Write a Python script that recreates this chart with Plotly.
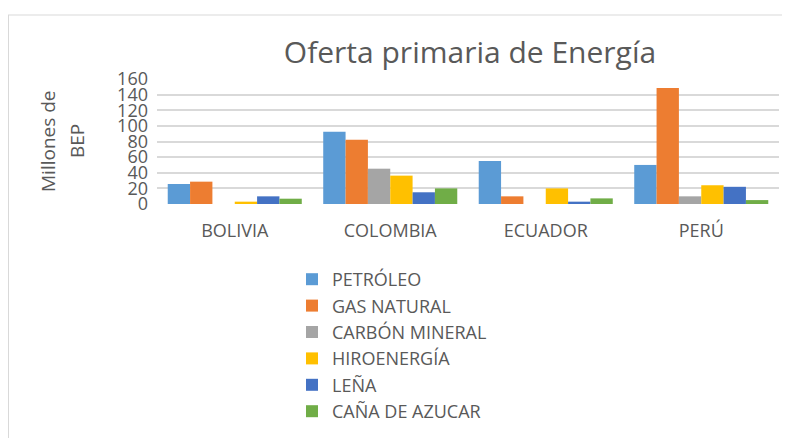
import plotly.graph_objects as go

countries = ["BOLIVIA", "COLOMBIA", "ECUADOR", "PERÚ"]
series_names = ["PETRÓLEO", "GAS NATURAL", "CARBÓN MINERAL", "HIROENERGÍA", "LEÑA", "CAÑA DE AZUCAR"]
petroleo = [25.6, 92.6, 55, 50]
gas_natural = [28.6, 82.3, 9.8, 148.5]
carbon_mineral = [0, 45.2, 0, 9.8]
hidroenergia = [3, 36.3, 20, 24]
lena = [9.8, 15, 3, 22]
cana = [6.8, 20, 7.2, 5]
colors = ["#5B9BD5", "#ED7D31", "#A5A5A5", "#FFC000", "#4472C4", "#70AD47"]
y_ticks = [0, 20, 40, 60, 80, 100, 120, 140, 160]
y_title_lines = ["Millones de", "BEP"]

values = [petroleo, gas_natural, carbon_mineral, hidroenergia, lena, cana]

FONT = "Open Sans"
GRAY = "#595959"

# page body has an 8px margin; figure coordinates are page - 8
W, H = 782, 430
L, R, T, B = 149, 11, 71, 234
PW = W - L - R
PH = H - T - B


def px(x):
    return (x - L) / PW


def py(y):
    return (H - B - y) / PH


fig = go.Figure()
for i, (name, vals, col) in enumerate(zip(series_names, values, colors)):
    fig.add_trace(go.Bar(name=name, x=countries, y=vals, marker_color=col,
                         marker_line_width=0))

annotations = []
for xpos, line in zip([40, 69], y_title_lines):
    annotations.append(dict(text=line, xref="paper", yref="paper", x=px(xpos), y=py(133),
                            xanchor="center", yanchor="middle", textangle=-90,
                            showarrow=False, font=dict(size=19, color=GRAY, family=FONT)))

fig.update_layout(
    width=W, height=H,
    margin=dict(l=L, r=R, t=T, b=B, autoexpand=False),
    paper_bgcolor="white", plot_bgcolor="white",
    barmode="group", bargap=0.138, bargroupgap=0,
    font=dict(family=FONT, color=GRAY),
    title=dict(text="Oferta primaria de Energía", x=462 / W, xanchor="center",
               y=1 - 44 / H, yanchor="middle",
               font=dict(size=30, color=GRAY, family=FONT)),
    showlegend=True,
    legend=dict(x=px(284), xanchor="left", y=py(253), yanchor="top",
                font=dict(size=18, color=GRAY, family=FONT),
                traceorder="normal", itemwidth=30,
                bgcolor="rgba(0,0,0,0)"),
    xaxis=dict(showgrid=False, showline=False, ticks="", ticklabelstandoff=14,
               tickfont=dict(size=18, color=GRAY, family=FONT)),
    yaxis=dict(range=[0, 160], tickvals=y_ticks, showgrid=True, gridcolor="#D9D9D9",
               gridwidth=1.5, zeroline=False, showline=False, ticks="",
               ticklabelstandoff=8,
               tickfont=dict(size=18, color=GRAY, family=FONT)),
    annotations=annotations,
    shapes=[
        dict(type="line", xref="paper", yref="paper", x0=px(0), x1=px(W + 5),
             y0=py(7), y1=py(7), line=dict(color="#D9D9D9", width=1)),
        dict(type="line", xref="paper", yref="paper", x0=px(0.5), x1=px(0.5),
             y0=py(7), y1=py(H + 5), line=dict(color="#D9D9D9", width=1)),
    ],
)

fig.write_html("out.html")
